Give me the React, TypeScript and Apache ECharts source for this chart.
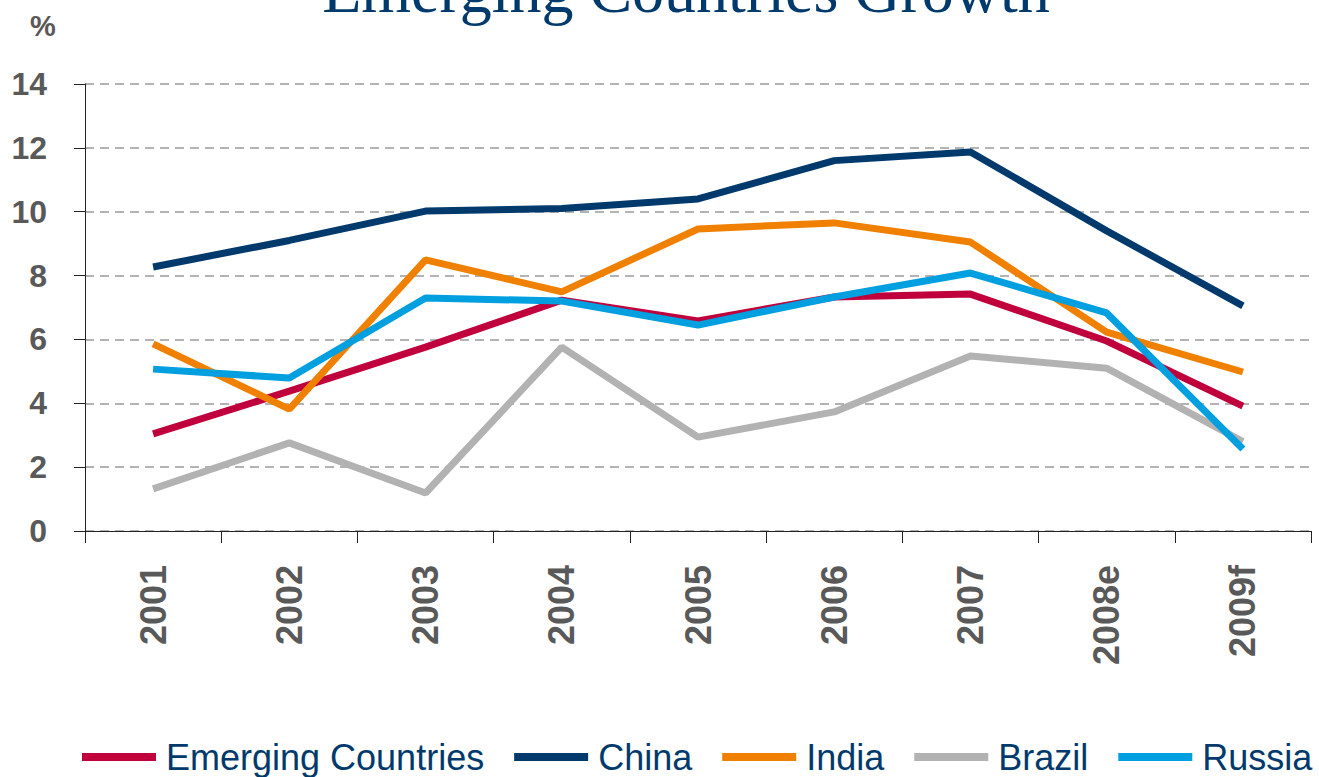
import React, { useEffect, useRef } from "react";
import * as echarts from "echarts";

const categories = ["2001", "2002", "2003", "2004", "2005", "2006", "2007", "2008e", "2009f"];
const emerging = [3.04, 4.38, 5.76, 7.23, 6.58, 7.33, 7.42, 5.95, 3.91];
const china = [8.27, 9.1, 10.02, 10.1, 10.4, 11.6, 11.87, 9.4, 7.05];
const india = [5.86, 3.82, 8.49, 7.49, 9.46, 9.65, 9.05, 6.23, 4.98];
const brazil = [1.32, 2.76, 1.19, 5.76, 2.94, 3.73, 5.48, 5.1, 2.8];
const russia = [5.07, 4.79, 7.3, 7.2, 6.45, 7.33, 8.08, 6.83, 2.57];

const seriesNames = ["Emerging Countries", "China", "India", "Brazil", "Russia"];
const seriesData = [emerging, china, india, brazil, russia];
const colors = ["#C0003C", "#003A6C", "#F08000", "#B2B2B2", "#009FE0"];

export default function App() {
  const ref = useRef<HTMLDivElement>(null);
  useEffect(() => {
    document.body.style.margin = "0";
    if (!ref.current) return;
    const chart = echarts.init(ref.current, null, { renderer: "svg" });
    chart.setOption({
      animation: false,
      color: colors,
      grid: { left: 85, right: 8, top: 84, bottom: 246, containLabel: false },
      graphic: [
        {
          type: "text",
          x: 686,
          y: -10,
          style: {
            text: "Emerging Countries Growth",
            font: "64px 'Liberation Serif', 'Times New Roman', serif",
            fill: "#003A6C",
            textAlign: "center",
            textVerticalAlign: "middle",
          },
        },
        {
          type: "text",
          x: 43,
          y: 26,
          style: {
            text: "%",
            font: "bold 29px 'Liberation Sans', Arial, sans-serif",
            fill: "#595959",
            textAlign: "center",
            textVerticalAlign: "middle",
          },
        },
      ],
      legend: {
        left: 82,
        top: 738,
        width: 1237,
        padding: 0,
        itemWidth: 74,
        itemHeight: 8,
        itemGap: 30,
        icon: "rect",
        textStyle: {
          fontFamily: "'Liberation Sans', Arial, sans-serif",
          fontSize: 36,
          color: "#003A6C",
          padding: [0, 0, 0, 5],
          lineHeight: 38,
        },
        data: seriesNames,
      },
      xAxis: {
        type: "category",
        data: categories,
        boundaryGap: true,
        axisLine: { show: true, lineStyle: { color: "#222", width: 1 } },
        axisTick: { show: true, length: 12, alignWithLabel: false, lineStyle: { color: "#222" } },
        axisLabel: {
          rotate: 90,
          margin: 34,
          interval: 0,
          fontFamily: "'Liberation Sans', Arial, sans-serif",
          fontWeight: "bold",
          fontSize: 36,
          color: "#595959",
        },
        splitLine: { show: false },
      },
      yAxis: {
        type: "value",
        min: 0,
        max: 14,
        interval: 2,
        axisLine: { show: true, lineStyle: { color: "#222", width: 1 } },
        axisTick: { show: true, length: 11, lineStyle: { color: "#222" } },
        axisLabel: {
          margin: 38,
          fontFamily: "'Liberation Sans', Arial, sans-serif",
          fontWeight: "bold",
          fontSize: 32,
          color: "#595959",
        },
        splitLine: {
          show: true,
          lineStyle: { color: "#B3B3B3", width: 2, type: [9, 6] },
        },
      },
      series: seriesNames.map((name, i) => ({
        name,
        type: "line",
        data: seriesData[i],
        showSymbol: false,
        symbol: "none",
        lineStyle: { width: 7, color: colors[i] },
        itemStyle: { color: colors[i] },
      })),
    });
    return () => chart.dispose();
  }, []);
  return <div ref={ref} style={{ width: 1319, height: 777 }} />;
}
